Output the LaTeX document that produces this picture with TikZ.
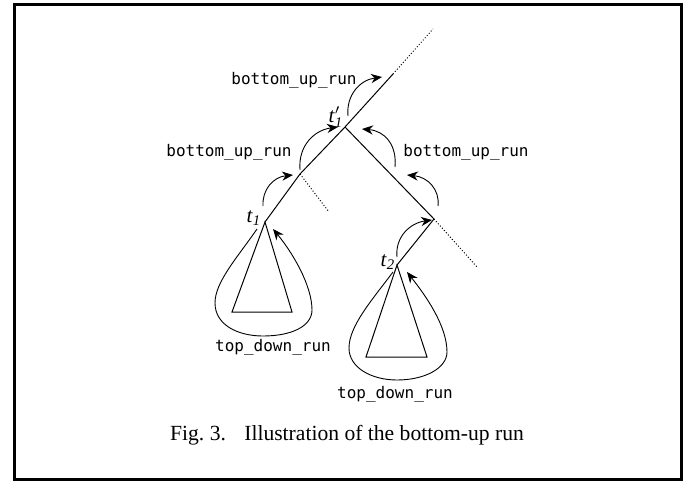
\documentclass[tikz,border=0pt]{standalone}
\usepackage{amsmath}
\usepackage{fontspec}
\setmainfont{Liberation Serif}
\setmonofont{DejaVu Sans Mono}
\usetikzlibrary{arrows.meta}

\tikzset{
  run/.style={font=\ttfamily\fontsize{8}{9}\selectfont, inner sep=0pt},
  tname/.style={font=\fontsize{10.5}{12}\selectfont, inner sep=0pt},
  runarrow/.style={-{Stealth[length=5.5pt,width=4.6pt,inset=1.8pt]}, line width=0.45pt},
  branch/.style={line width=0.5pt},
  cut/.style={line width=0.5pt, densely dotted}
}

\begin{document}
\begin{tikzpicture}[x=0.5pt,y=-0.5pt]
\useasboundingbox (0,0) rectangle (697,483);
\draw [line width=1.5pt] (14,4) rectangle (681,479.5);

% tree
\coordinate (t1) at (265,222);
\coordinate (m1) at (300,174);
\coordinate (r) at (345,127);
\coordinate (m2) at (434,219);
\coordinate (t2) at (397,265);
\coordinate (rtop) at (393,74);
\coordinate (topend) at (433,29);
\coordinate (m1end) at (329,212);
\coordinate (m2end) at (478,268);

\draw [branch] (t1)--(m1)--(r)--(rtop);
\draw [cut] (rtop)--(topend);
\draw [cut] (m1)--(m1end);
\draw [branch] (r)--(m2)--(t2);
\draw [cut] (m2)--(m2end);

% subtrees
\draw [branch] (t1)--(232,312)--(292,312)--cycle;
\draw [branch] (t2)--(366,357)--(427,357)--cycle;

\node [tname] (lt1) at (254,218) {\textit{t}$_{\textit{1}}$};
\node [tname] (lt2) at (388,262) {\textit{t}$_{\textit{2}}$};
\node [tname] (lr) at (336,117) {\textit{t}$'_{\textit{1}}$};

% top_down_run loops
\draw [runarrow] (257,229) .. controls (237,258) and (215,282) .. (215,303)
  .. controls (215,325) and (238,336) .. (263,336)
  .. controls (292,336) and (312,326) .. (312,310)
  .. controls (312,285) and (292,252) .. (273,229);
\draw [runarrow] (393,272) .. controls (372,300) and (349,326) .. (349,348)
  .. controls (349,368) and (372,380) .. (397,380)
  .. controls (425,380) and (447,368) .. (447,352)
  .. controls (447,326) and (426,296) .. (407,272);

\node [run] (td1) at (273,347) {top\_down\_run};
\node [run] (td2) at (395,394) {top\_down\_run};

% bottom_up_run arcs
\coordinate (a1) at (263,206);
\coordinate (a1e) at (293,175);
\coordinate (a2) at (300,170);
\coordinate (a2e) at (338,127);
\coordinate (a3) at (348,116);
\coordinate (a3e) at (382,77);
\coordinate (a4) at (395,167);
\coordinate (a4e) at (362,129);
\coordinate (a5) at (438,206);
\coordinate (a5e) at (407,175);
\coordinate (a6) at (397,257);
\coordinate (a6e) at (432,220);

\draw [runarrow] (a1) .. controls (262,190) and (273,177) .. (a1e);
\draw [runarrow] (a2) .. controls (298,145) and (315,130) .. (a2e);
\draw [runarrow] (a3) .. controls (346,95) and (360,80) .. (a3e);
\draw [runarrow] (a4) .. controls (397,145) and (385,131) .. (a4e);
\draw [runarrow] (a5) .. controls (440,190) and (428,177) .. (a5e);
\draw [runarrow] (a6) .. controls (395,237) and (410,223) .. (a6e);

\node [run] (bu1) at (294,80) {bottom\_up\_run};
\node [run] (bu2) at (229,152) {bottom\_up\_run};
\node [run] (bu3) at (466,152) {bottom\_up\_run};

\node [font=\fontsize{10.8}{13}\selectfont, inner sep=0pt] (caption) at (347,435)
  {Fig.~3.\hspace{0.85em}Illustration of the bottom-up run};

\end{tikzpicture}
\end{document}
